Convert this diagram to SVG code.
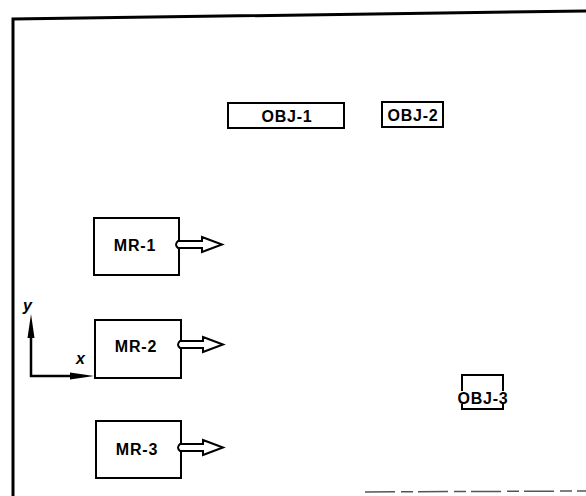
<svg xmlns="http://www.w3.org/2000/svg" width="586" height="496" viewBox="0 0 586 496">
<style>
.box{fill:#fff;stroke:#000;stroke-width:2}
.lbl{font-family:"Liberation Sans",Arial,sans-serif;font-weight:bold;font-size:16px;letter-spacing:0.8px;text-anchor:middle;fill:#000}
.ax{font-family:"Liberation Sans",Arial,sans-serif;font-style:italic;font-weight:bold;font-size:16px;fill:#000}
.harrow{fill:#fff;stroke:#000;stroke-width:2;stroke-linejoin:miter}
.frame{fill:none;stroke:#000;stroke-width:3}
.axl{stroke:#000;stroke-width:2.5;fill:none}
.axh{fill:#000}
</style>
<g id="frame">
<path class="frame" d="M13,496 L13,19 L586,11"/>
<line x1="365" y1="492" x2="586" y2="491" stroke="#555" stroke-width="1.5" stroke-dasharray="30,6,12,5"/>
</g>
<g id="obj-1"><rect class="box" x="228" y="103" width="116" height="25"/><text class="lbl" x="287" y="122">OBJ-1</text></g>
<g id="obj-2"><rect class="box" x="382" y="102" width="61" height="25"/><text class="lbl" x="413" y="120.5">OBJ-2</text></g>
<g id="obj-3">
<path fill="none" stroke="#000" stroke-width="2" d="M462,391 L462,375 L503,375 L503,391 M462,404 L462,409 L503,409 L503,404"/>
<text class="lbl" x="483" y="404">OBJ-3</text>
</g>
<g id="mr-1"><rect class="box" x="94" y="218" width="85" height="57"/><text class="lbl" x="135" y="251">MR-1</text></g>
<g id="mr-2"><rect class="box" x="95" y="320" width="86" height="58"/><text class="lbl" x="136" y="352">MR-2</text></g>
<g id="mr-3"><rect class="box" x="96" y="421" width="85" height="57"/><text class="lbl" x="137" y="455">MR-3</text></g>
<g id="connectors">
<path class="harrow" d="M178,241 L202,241 L202,237 L222,244.5 L202,252 L202,248 L178,248 Q174,244.5 178,241 Z"/>
<path class="harrow" d="M180,341 L203,341 L203,337 L223,344.5 L203,352 L203,348 L180,348 Q176,344.5 180,341 Z"/>
<path class="harrow" d="M180,444 L203,444 L203,440 L223,447.5 L203,455 L203,451 L180,451 Q176,447.5 180,444 Z"/>
<g id="axes">
<path class="axl" d="M31,335 L31,376 L70,376"/>
<path class="axh" d="M31,314 L34.5,338 L27.5,338 Z"/>
<path class="axh" d="M94,376 L70,372.5 L70,379.5 Z"/>
<text class="ax" x="23" y="311">y</text>
<text class="ax" x="76" y="364">x</text>
</g>
</g>
</svg>
